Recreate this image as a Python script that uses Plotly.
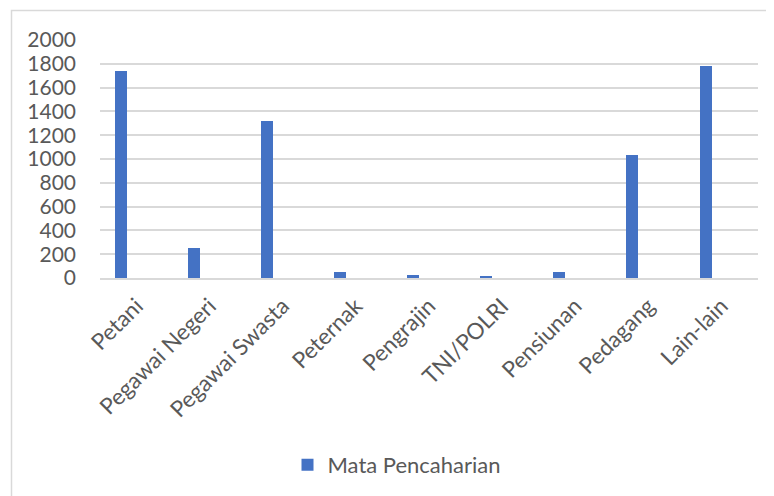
import plotly.graph_objects as go

categories = ["Petani", "Pegawai Negeri", "Pegawai Swasta", "Peternak", "Pengrajin",
              "TNI/POLRI", "Pensiunan", "Pedagang", "Lain-lain"]
values = [1740, 250, 1320, 50, 22, 10, 50, 1030, 1785]
series_name = "Mata Pencaharian"
y_ticks = [0, 200, 400, 600, 800, 1000, 1200, 1400, 1600, 1800, 2000]

FONT = "Lato"
GRAY = "#595959"

fig = go.Figure()
fig.add_trace(go.Bar(
    x=categories, y=values, name=series_name,
    marker=dict(color="#4472C4", line=dict(width=0)),
    width=0.164, offset=-0.30,
    showlegend=True,
))

# page body has an 8px margin; figure is sized to fit inside the window
PAD = 8
W, H = 774 - PAD, 496 - PAD
L, R, T, B = 100 - PAD, 16, 40 - PAD, 218
ph = H - T - B
pw = W - L - R

def px_to_paper_x(sx):
    return (sx - PAD - L) / pw

def px_to_paper_y(sy):
    return (H - B - (sy - PAD)) / ph

fig.update_layout(
    width=W, height=H,
    margin=dict(l=L, r=R, t=T, b=B, autoexpand=False),
    paper_bgcolor="white", plot_bgcolor="white",
    font=dict(family=FONT, size=20, color=GRAY),
    showlegend=True,
    legend=dict(
        orientation="h",
        x=px_to_paper_x(397), xanchor="center",
        y=px_to_paper_y(465), yanchor="middle",
        font=dict(family=FONT, size=22, color=GRAY),
        itemwidth=30,
    ),
    xaxis=dict(
        type="category",
        range=[-0.5, len(categories) - 0.5],
        automargin=False,
        tickangle=-45,
        tickfont=dict(family=FONT, size=22.5, color=GRAY),
        showgrid=False, showline=True, linecolor="#d9d9d9", linewidth=2,
        ticks="", ticklabelstandoff=4,
    ),
    yaxis=dict(
        range=[0, 2000],
        automargin=False,
        tickvals=y_ticks,
        tickfont=dict(family=FONT, size=21, color=GRAY),
        showgrid=True, gridcolor="#d9d9d9", gridwidth=2,
        zeroline=False, showline=False,
        ticks="", ticklabelstandoff=23,
    ),
    bargap=0,
)

# chart-area border
fig.add_shape(type="rect", xref="paper", yref="paper",
              x0=px_to_paper_x(11.5), x1=px_to_paper_x(800),
              y0=px_to_paper_y(520), y1=px_to_paper_y(10.5),
              line=dict(color="#d9d9d9", width=1.5), layer="below")

fig.write_html("out.html")
